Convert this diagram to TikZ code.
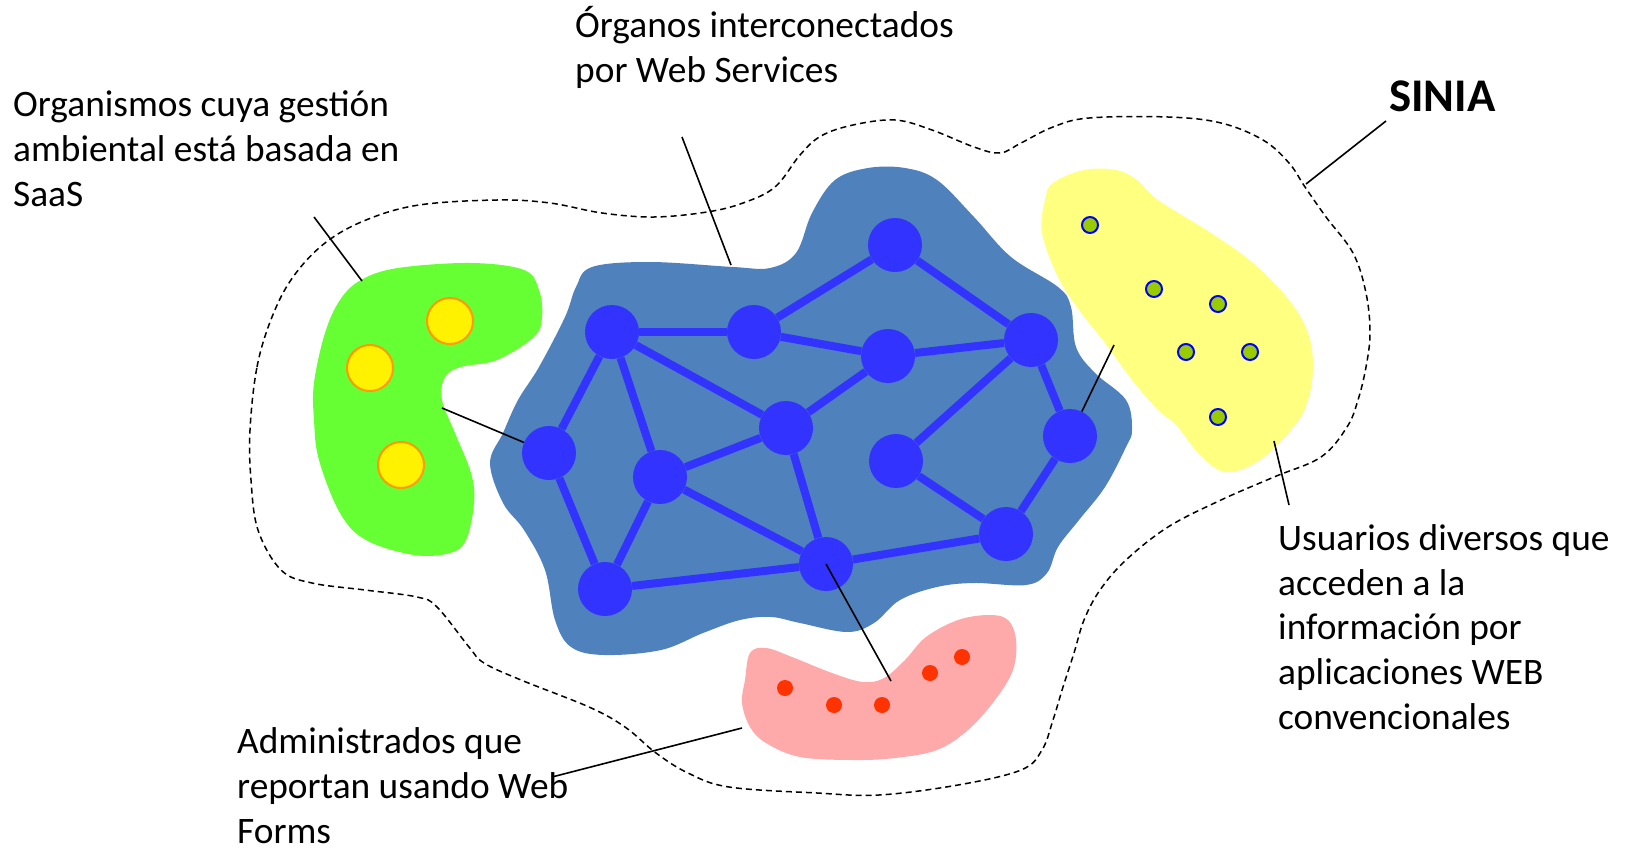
\documentclass[tikz,border=0pt]{standalone}
\usepackage{fontspec}
\setmainfont{Carlito}
\definecolor{blobblue}{HTML}{4F81BD}
\definecolor{nodeblue}{HTML}{3333FF}
\definecolor{blobgreen}{HTML}{66FF33}
\definecolor{blobyellow}{HTML}{FFFF80}
\definecolor{blobpink}{HTML}{FFAAAA}
\definecolor{dotorange}{HTML}{FF9900}
\definecolor{dotgreen}{HTML}{99CC00}
\definecolor{dotred}{HTML}{FF3300}
\begin{document}
\begin{tikzpicture}[x=1bp,y=-1bp,
  net/.style={circle,fill=nodeblue,minimum size=54bp,inner sep=0pt},
  link/.style={draw=nodeblue,line width=8bp},
  ydot/.style={circle,fill=yellow,draw=dotorange,line width=2bp,minimum size=46bp,inner sep=0pt},
  gdot/.style={circle,fill=dotgreen,draw=blue,line width=2bp,minimum size=16bp,inner sep=0pt},
  rdot/.style={circle,fill=dotred,minimum size=16bp,inner sep=0pt},
  leader/.style={draw=black,line width=1.6bp},
  outline/.style={draw=black,line width=1.5bp,dash pattern=on 6bp off 4bp},
  lbl/.style={anchor=base west,inner sep=0pt,align=left,font=\fontsize{37.5}{44.7}\selectfont},
  blob/.style={smooth cycle,tension=0.6}
]
\useasboundingbox (0,0) rectangle (1625,849);

% dashed SINIA outline
\draw[outline] plot[blob] coordinates {
 (250,430) (257,367) (272,317) (293,277) (325,243) (366,220) (419,205) (497,200)
 (550,203) (602,213) (654,217) (707,212) (743,203) (775,187) (800,155) (821,136)
 (853,125) (895,120) (932,130) (974,147) (1000,153) (1021,143) (1053,127) (1089,118)
 (1168,117) (1221,123) (1263,140) (1289,163) (1305,187) (1326,217) (1353,253) (1366,293)
 (1370,333) (1366,367) (1358,400) (1347,427) (1321,457) (1274,477) (1221,500) (1168,527)
 (1126,560) (1100,590) (1084,620) (1074,653) (1063,687) (1053,720) (1042,750) (1021,770)
 (958,785) (879,795) (817,793) (729,787) (688,773) (656,753) (625,727) (589,707)
 (521,680) (484,663) (469,647) (437,607) (417,597) (365,590) (312,583) (281,570)
 (258,530) (251,480)};

% blue blob
\fill[blobblue] plot[blob] coordinates {
 (592,267) (650,262) (733,267) (770,268) (796,253) (812,213) (835,180) (868,168)
 (905,168) (937,180) (974,217) (1011,257) (1058,287) (1071,307) (1076,347) (1095,373)
 (1126,400) (1132,430) (1126,447) (1105,487) (1079,520) (1058,547) (1047,573) (1026,585)
 (974,583) (937,587) (900,600) (874,623) (847,632) (800,623) (771,617) (740,620)
 (703,633) (661,650) (604,655) (571,647) (555,620) (545,570) (524,530) (503,503)
 (490,463) (503,433) (518,400) (539,367) (565,317) (576,287)};

% green blob
\fill[blobgreen] plot[blob] coordinates {
 (361,280) (398,268) (471,263) (524,270) (539,290) (542,317) (534,337) (497,360)
 (461,367) (445,377) (442,400) (455,433) (471,473) (474,503) (466,540) (450,553)
 (414,555) (366,540) (340,513) (319,460) (314,420) (314,383) (325,333) (340,300)};

% yellow blob
\fill[blobyellow] plot[blob] coordinates {
 (1053,183) (1084,170) (1116,170) (1137,180) (1158,200) (1211,233) (1253,263) (1289,300)
 (1308,333) (1313,367) (1308,400) (1295,425) (1260,460) (1226,472) (1200,455) (1176,425)
 (1158,410) (1132,380) (1105,343) (1079,310) (1058,277) (1042,233) (1045,200)};

% pink blob
\fill[blobpink] plot[blob] coordinates {
 (750,653) (766,648) (792,657) (832,673) (863,682) (884,678) (905,660) (926,637)
 (958,620) (989,615) (1008,620) (1016,640) (1013,670) (995,700) (968,730) (937,750)
 (895,758) (853,760) (800,757) (766,743) (750,727) (742,703) (745,680)};

% network nodes
\node[net] (A) at (612,332) {};
\node[net] (B) at (754,332) {};
\node[net] (C) at (895,245) {};
\node[net] (D) at (888,356) {};
\node[net] (E) at (1031,340) {};
\node[net] (F) at (786,428) {};
\node[net] (G) at (549,453) {};
\node[net] (H) at (660,477) {};
\node[net] (I) at (896,461) {};
\node[net] (J) at (1070,436) {};
\node[net] (K) at (1006,534) {};
\node[net] (L) at (826,564) {};
\node[net] (M) at (605,589) {};

\foreach \u/\v in {A/B,B/C,B/D,C/E,D/E,A/G,A/H,A/F,F/D,F/H,F/L,G/M,H/M,H/L,M/L,L/K,K/J,J/E,E/I,I/K}
  \draw[link] (\u) -- (\v);

% yellow circles in green blob
\node[ydot] (y1) at (450,321) {};
\node[ydot] (y2) at (370,368) {};
\node[ydot] (y3) at (401,465) {};

% green dots in yellow blob
\node[gdot] (g1) at (1090,225) {};
\node[gdot] (g2) at (1154,289) {};
\node[gdot] (g3) at (1218,304) {};
\node[gdot] (g4) at (1186,352) {};
\node[gdot] (g5) at (1250,352) {};
\node[gdot] (g6) at (1218,417) {};

% red dots in pink blob
\node[rdot] (r1) at (785,688) {};
\node[rdot] (r2) at (834,705) {};
\node[rdot] (r3) at (882,705) {};
\node[rdot] (r4) at (930,673) {};
\node[rdot] (r5) at (962,657) {};

% labels (base anchor = baseline of the last line)
\node[lbl] (tOrg) at (575,82) {Órganos interconectados\\por Web Services};
\node[lbl] (tSaas) at (13,206) {Organismos cuya gestión\\ambiental está basada en\\SaaS};
\node[lbl,font=\fontsize{47}{50}\selectfont\bfseries] (tSinia) at (1389,111) {SINIA};
\node[lbl] (tUsu) at (1278,729) {Usuarios diversos que\\acceden a la\\información por\\aplicaciones WEB\\convencionales};
\node[lbl] (tAdm) at (237,843) {Administrados que\\reportan usando Web\\Forms};

% leader line end points
\coordinate (cOrgA) at (682,137);
\coordinate (cOrgB) at (731,265);
\coordinate (cSaA) at (314,217);
\coordinate (cSaB) at (362,281);
\coordinate (cGrA) at (442,408);
\coordinate (cSiA) at (1386,121);
\coordinate (cSiB) at (1306,184);
\coordinate (cYeA) at (1114,345);
\coordinate (cUsA) at (1274,441);
\coordinate (cUsB) at (1289,505);
\coordinate (cPkB) at (891,681);
\coordinate (cAdA) at (742,728);
\coordinate (cAdB) at (552,777);

\draw[leader] (cOrgA) -- (cOrgB);
\draw[leader] (cSaA) -- (cSaB);
\draw[leader] (cGrA) -- (G);
\draw[leader] (cSiA) -- (cSiB);
\draw[leader] (cYeA) -- (J);
\draw[leader] (cUsA) -- (cUsB);
\draw[leader] (L.center) -- (cPkB);
\draw[leader] (cAdA) -- (cAdB);
\end{tikzpicture}
\end{document}
